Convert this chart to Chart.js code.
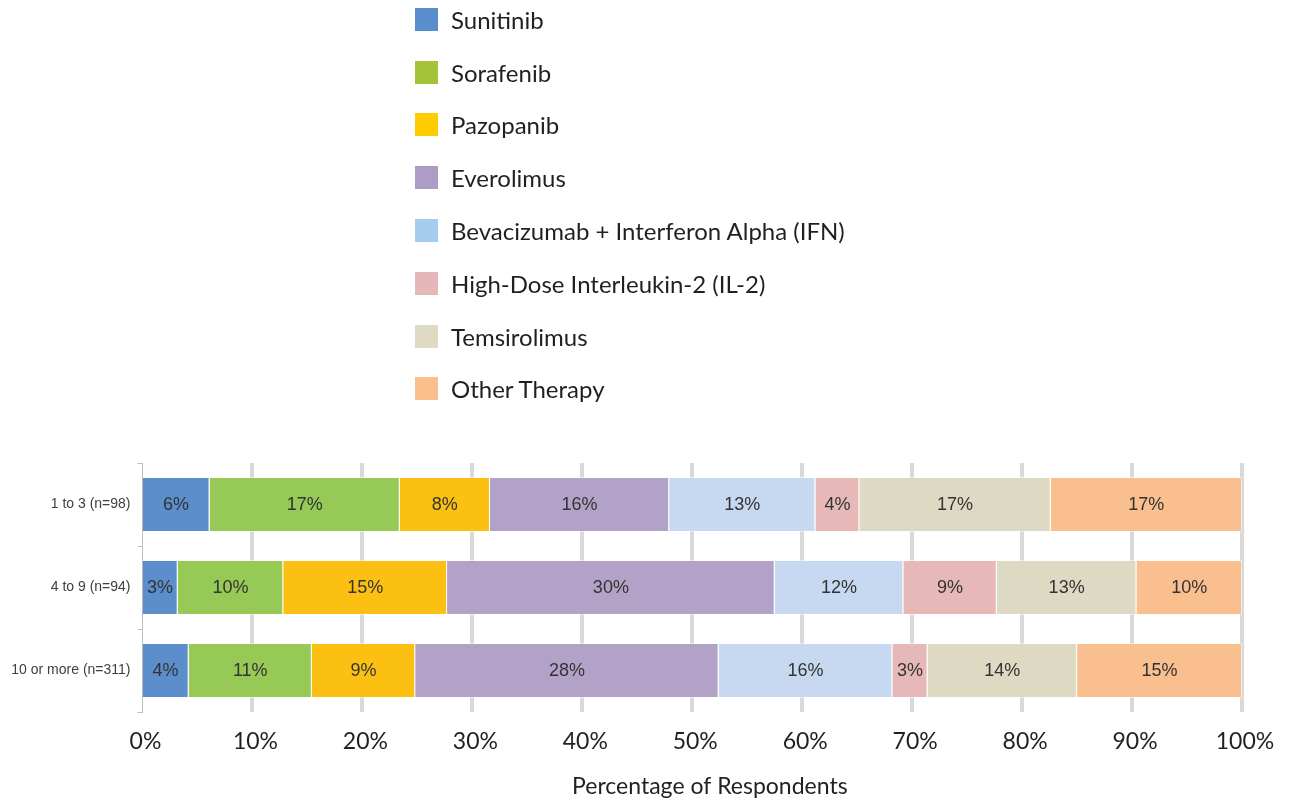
<!DOCTYPE html>
<html>
<head>
<meta charset="utf-8">
<title>Therapy by experience</title>
<script src="https://cdn.jsdelivr.net/npm/chart.js@4.4.0/dist/chart.umd.min.js"></script>
<style>
    html, body { margin: 0; padding: 0; background: #fff; }
    #wrap { position: relative; width: 1303px; height: 802px; overflow: hidden; }
    #chart { position: absolute; left: 0; top: 0; }
    #legend { position: absolute; left: 415px; top: -7px; margin: 0; padding: 0; list-style: none;
        font-family: Lato, "Noto Sans", sans-serif; font-size: 24px; color: #231F20; }
    #legend li { height: 52.8px; display: flex; align-items: center; white-space: nowrap; }
    #legend .sw { width: 23px; height: 23px; margin-right: 13px; flex: none; }
</style>
</head>
<body>
<div id="wrap">
    <canvas id="chart" width="1303" height="802"></canvas>
    <ul id="legend"></ul>
</div>
<script>
// data (percent of respondents)
const categories = ['1 to 3 (n=98)', '4 to 9 (n=94)', '10 or more (n=311)'];
const therapies = ['Sunitinib', 'Sorafenib', 'Pazopanib', 'Everolimus',
    'Bevacizumab + Interferon Alpha (IFN)', 'High-Dose Interleukin-2 (IL-2)', 'Temsirolimus', 'Other Therapy'];
const sunitinib = [6.1, 3.2, 4.2];
const sorafenib = [17.3, 9.6, 11.2];
const pazopanib = [8.2, 14.9, 9.4];
const everolimus = [16.3, 29.8, 27.6];
const bevacizumab = [13.3, 11.7, 15.8];
const interleukin = [4.0, 8.5, 3.2];
const temsirolimus = [17.4, 12.7, 13.6];
const otherTherapy = [17.4, 9.6, 15.0];
const tickLabels = ['0%', '10%', '20%', '30%', '40%', '50%', '60%', '70%', '80%', '90%', '100%'];
const axisTitle = 'Percentage of Respondents';

const seriesValues = [sunitinib, sorafenib, pazopanib, everolimus, bevacizumab, interleukin, temsirolimus, otherTherapy];
const barColors = ['#5B8ECB', '#96C955', '#FCC013', '#B3A2C7', '#C6D9F0', '#E6B8B7', '#DDD9C3', '#F9BF8F'];
const legendColors = ['#5A8DCB', '#A5C339', '#FFCC00', '#AE9CC8', '#A6CDEE', '#E6B7B8', '#DEDAC4', '#F9C08E'];

// 1. labels in the middle of each segment + axis title
const barLabels = {
    id: 'barLabels',
    afterDatasetsDraw(chart) {
        const ctx = chart.ctx;
        ctx.save();
        ctx.font = '18px "Liberation Sans", Arial, sans-serif';
        ctx.fillStyle = '#333333';
        ctx.textAlign = 'center';
        ctx.textBaseline = 'middle';
        chart.data.datasets.forEach((ds, i) => {
            chart.getDatasetMeta(i).data.forEach((bar, j) => {
                const c = bar.getCenterPoint();
                ctx.fillText(Math.round(ds.data[j]) + '%', c.x, c.y + 1);
            });
        });
        // title sits a bit right of the plot centre in the original
        ctx.font = '23px Lato, sans-serif';
        ctx.fillStyle = '#231F20';
        ctx.fillText(axisTitle, chart.chartArea.left + (chart.chartArea.right - chart.chartArea.left) * 0.516, 787);
        ctx.restore();
    }
};

// 2. chart
const chart = new Chart(document.getElementById('chart'), {
    type: 'bar',
    data: {
        labels: categories,
        datasets: therapies.map((name, i) => ({
            label: name,
            data: seriesValues[i],
            backgroundColor: barColors[i],
            borderColor: 'rgba(255,255,255,0.5)',
            borderWidth: 1,
            borderSkipped: 'start',
            barPercentage: 0.663,
            categoryPercentage: 1
        }))
    },
    options: {
        indexAxis: 'y',
        responsive: false,
        animation: false,
        layout: { padding: { top: 463, right: 61, left: 0, bottom: 0 } },
        plugins: { legend: { display: false }, tooltip: { enabled: false } },
        scales: {
            x: {
                stacked: true,
                min: 0,
                max: 100,
                afterFit: (scale) => { scale.height = 90; },
                grid: {
                    color: '#D9D9D9',
                    // no grid line at 0%, the thin y axis line stands there
                    lineWidth: (c) => c.index === 0 ? 0 : 4,
                    drawTicks: false
                },
                border: { display: false },
                ticks: {
                    stepSize: 10,
                    padding: 16,
                    labelOffset: 3,
                    color: '#231F20',
                    font: { family: 'Lato', size: 23 },
                    callback: (v, i) => tickLabels[i]
                }
            },
            y: {
                stacked: true,
                afterFit: (scale) => { scale.width = 142.5; },
                grid: { drawOnChartArea: false, tickLength: 5, color: '#BFBFBF', lineWidth: 1 },
                border: { display: true, color: '#BFBFBF', width: 1 },
                ticks: {
                    padding: 7,
                    color: '#404040',
                    font: { family: 'Liberation Sans', size: 14 }
                }
            }
        }
    },
    plugins: [barLabels]
});

// 3. legend, one item per line
const legendEl = document.getElementById('legend');
chart.data.datasets.forEach((ds, i) => {
    const li = document.createElement('li');
    li.innerHTML = `<span class="sw" style="background:${legendColors[i]}"></span><span>${ds.label}</span>`;
    legendEl.appendChild(li);
});
</script>
</body>
</html>
